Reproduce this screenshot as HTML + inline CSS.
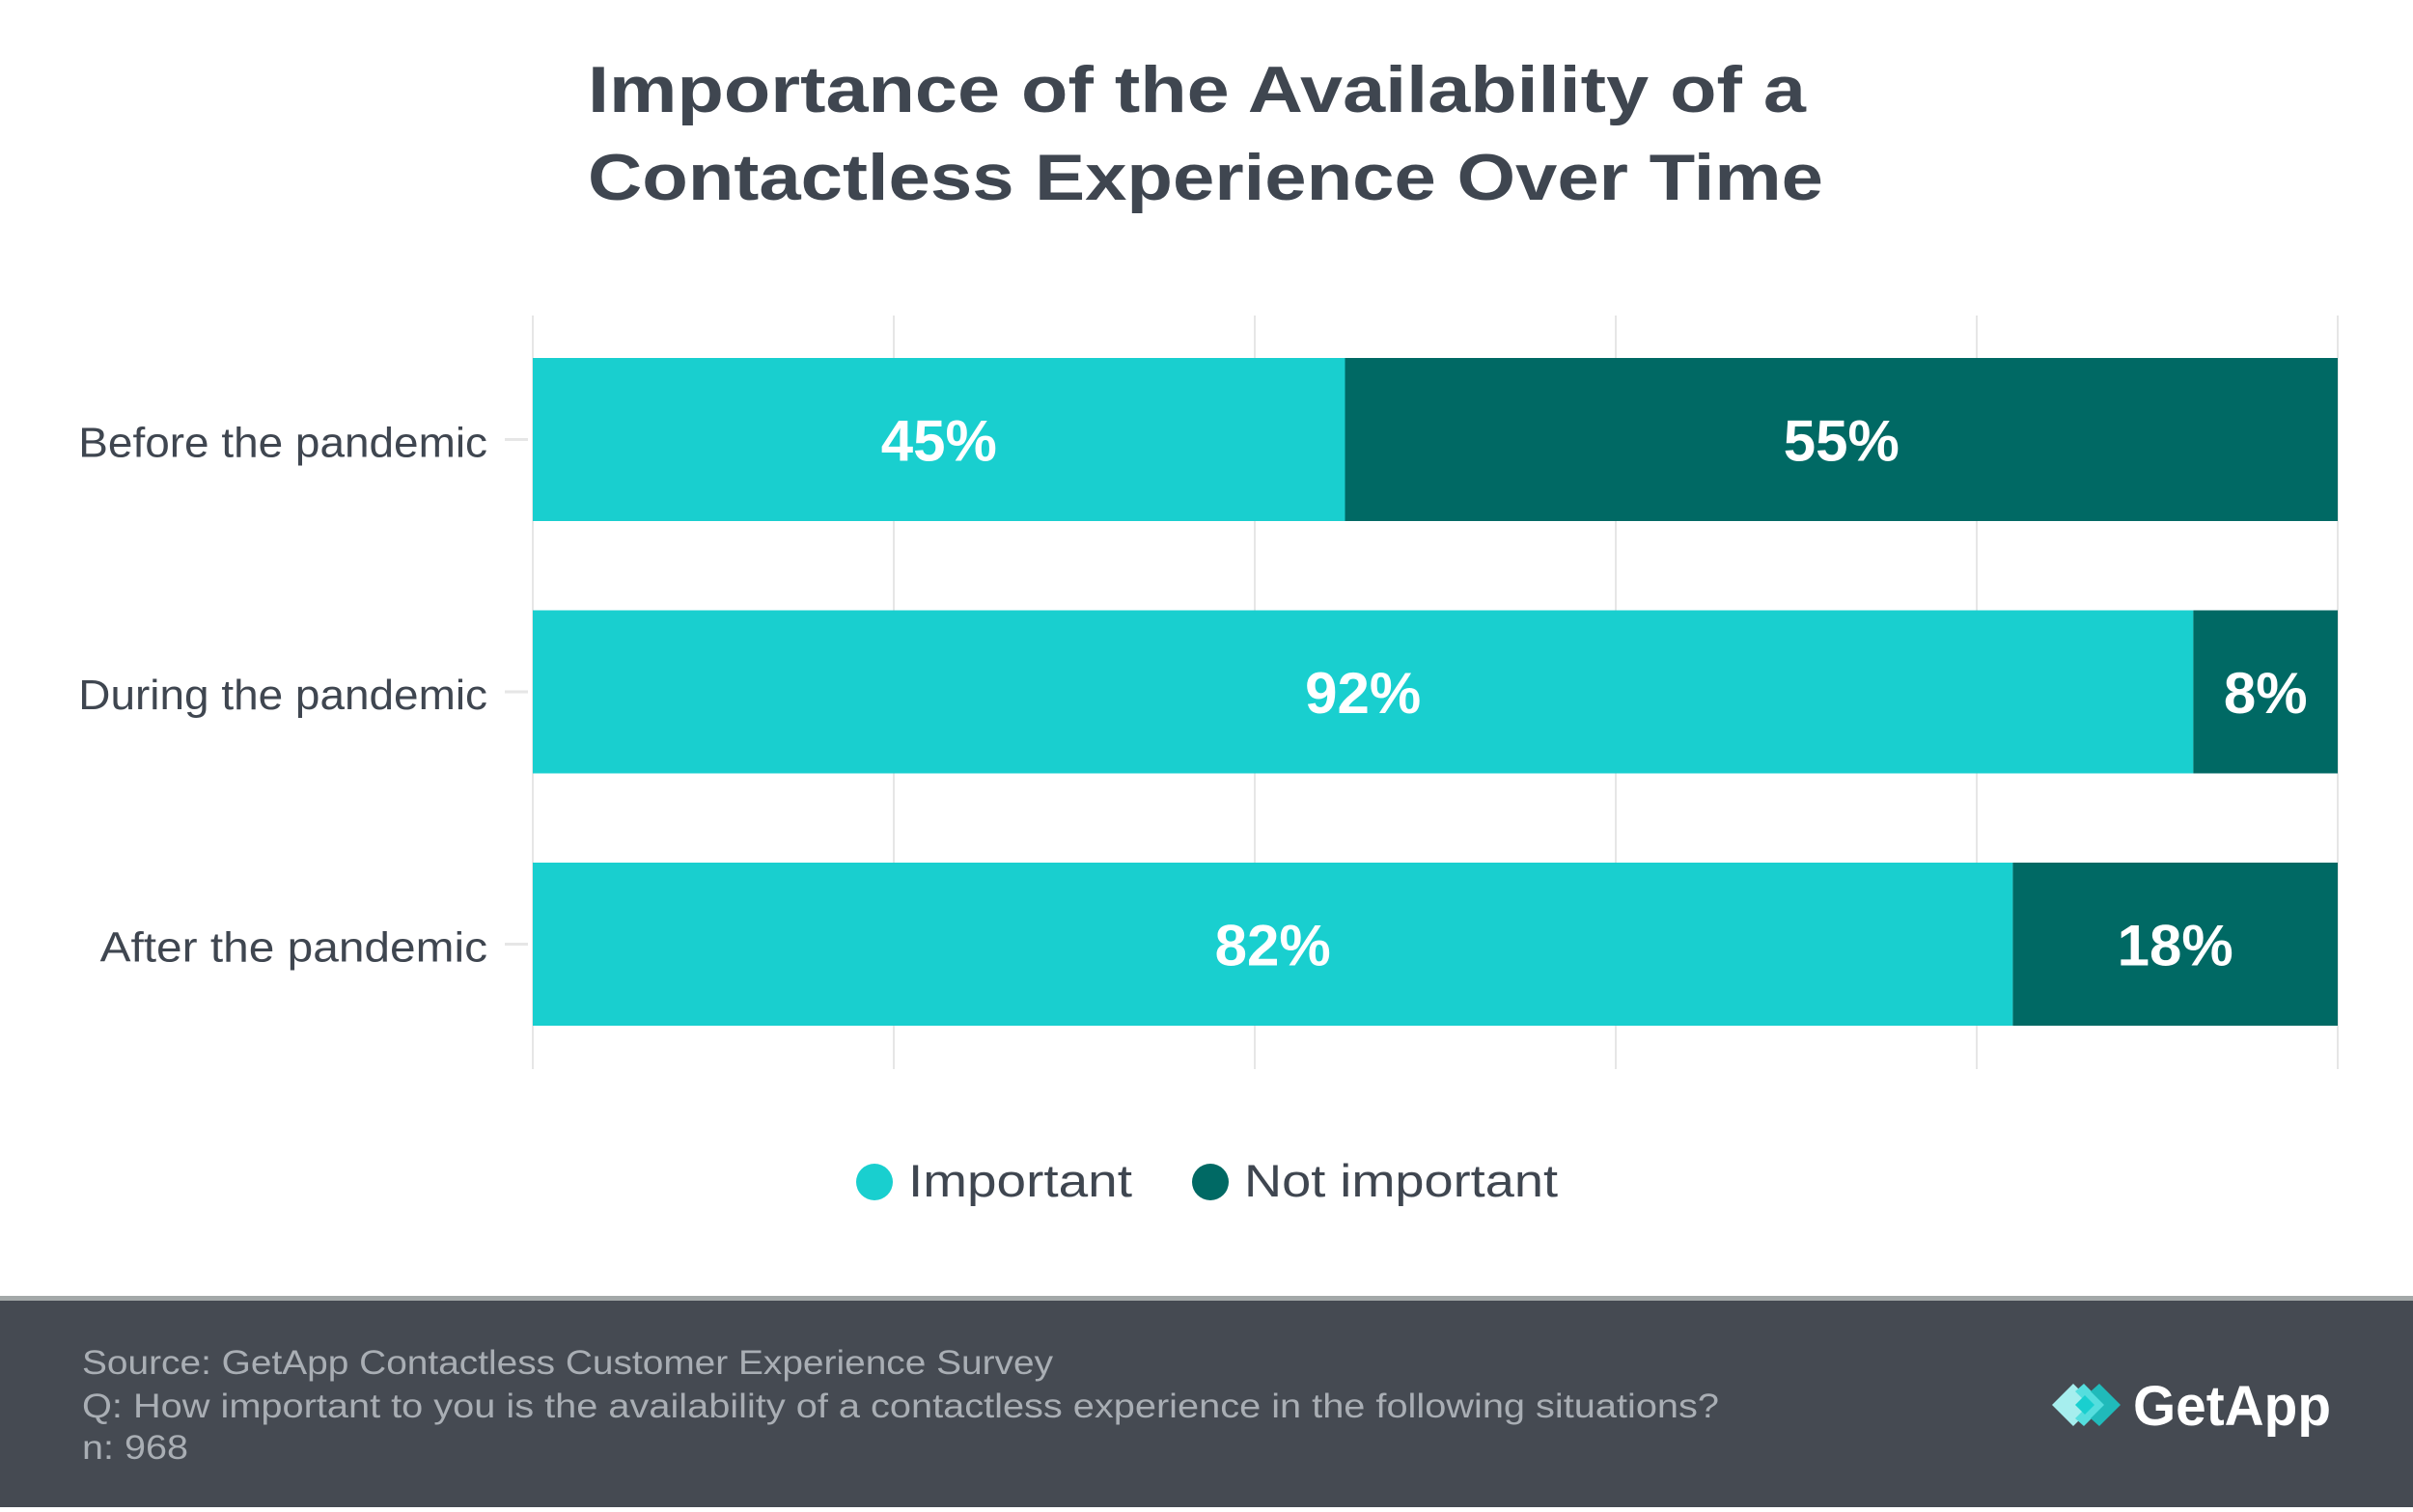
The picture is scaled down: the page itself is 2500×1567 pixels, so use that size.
<!DOCTYPE html>
<html><head><meta charset="utf-8"><style>
html,body{margin:0;padding:0;background:#fff;}
body{width:2500px;height:1562px;overflow:hidden;font-family:"Liberation Sans",sans-serif;}
</style></head><body>
<svg id="chart" width="2500" height="1562" viewBox="0 0 2500 1562" xmlns="http://www.w3.org/2000/svg">
<rect x="0" y="0" width="2500" height="1562" fill="#ffffff"/>
<text x="609" y="116" font-family="Liberation Sans, sans-serif" font-weight="bold" font-size="68" fill="#3f4650" textLength="1262" lengthAdjust="spacingAndGlyphs">Importance of the Availability of a</text>
<text x="609" y="207" font-family="Liberation Sans, sans-serif" font-weight="bold" font-size="68" fill="#3f4650" textLength="1280" lengthAdjust="spacingAndGlyphs">Contactless Experience Over Time</text>
<g id="grid"></g>
<g id="bars"></g>
<g id="cats"></g>
<g>
<circle cx="906" cy="1225" r="19" fill="#19cfcf"/>
<text x="941" y="1240" font-size="47" fill="#3f4650" textLength="232" lengthAdjust="spacingAndGlyphs">Important</text>
<circle cx="1254" cy="1225" r="19" fill="#006964"/>
<text x="1289" y="1240" font-size="47" fill="#3f4650" textLength="325" lengthAdjust="spacingAndGlyphs">Not important</text>
</g>
<rect x="0" y="1343" width="2500" height="5" fill="#a3a8a8"/>
<rect x="0" y="1348" width="2500" height="214" fill="#454a52"/>
<g font-size="35" fill="#a9aeb4">
<text x="85" y="1424" textLength="1006" lengthAdjust="spacingAndGlyphs">Source: GetApp Contactless Customer Experience Survey</text>
<text x="85" y="1469" textLength="1696" lengthAdjust="spacingAndGlyphs">Q: How important to you is the availability of a contactless experience in the following situations?</text>
<text x="85" y="1512" textLength="110" lengthAdjust="spacingAndGlyphs">n: 968</text>
</g>
<g>
<polygon points="2126,1456 2148,1434 2170,1456 2148,1478" fill="#a6eeee"/>
<polygon points="2159,1434 2181,1456 2159,1478 2150,1470 2164,1456 2150,1442" fill="#55dede"/>
<polygon points="2175,1434 2197,1456 2175,1478 2166,1470 2180,1456 2166,1442" fill="#20baba"/>
<polygon points="2150,1456 2160,1446 2170,1456 2160,1466" fill="#19cfcf"/>
<text x="2210" y="1477" font-weight="bold" font-size="58" fill="#ffffff" textLength="205" lengthAdjust="spacingAndGlyphs">GetApp</text>
</g>
</svg>
<script>
const categories = ["Before the pandemic", "During the pandemic", "After the pandemic"];
const importantValues = [45, 92, 82];
const notImportantValues = [55, 8, 18];
const gridTicks = [0, 20, 40, 60, 80, 100];

const NS = "http://www.w3.org/2000/svg";
const X0 = 552, X1 = 2422, TOP = 327, BOTTOM = 1108;
const barTops = [371, 634, 894], BAR_H = 169;
function xScale(v){ return X0 + (X1 - X0) * v / 100; }
function yBand(i){ return barTops[0] + i * ((barTops[2] - barTops[0]) / 2); }
function mk(tag, attrs, parent){ const e = document.createElementNS(NS, tag); for (const k in attrs) e.setAttribute(k, attrs[k]); parent.appendChild(e); return e; }

const grid = document.getElementById('grid');
gridTicks.forEach(t => {
  const l = mk('line', {x1: xScale(t), x2: xScale(t), y1: TOP, y2: BOTTOM, stroke: '#e6e6e6', 'stroke-width': 2}, grid);
  
  
});

const bars = document.getElementById('bars');
const cats = document.getElementById('cats');
categories.forEach((c, i) => {
  const y = yBand(i);
  const a = importantValues[i], b = notImportantValues[i];
  const r1 = mk('rect', {x: xScale(0), y: y, width: xScale(a) - xScale(0), height: BAR_H, fill: '#19cfcf'}, bars);
  
  
  const r2 = mk('rect', {x: xScale(a), y: y, width: xScale(a + b) - xScale(a), height: BAR_H, fill: '#006964'}, bars);
  
  
  const t1 = mk('text', {x: (xScale(0) + xScale(a)) / 2, y: y + BAR_H / 2 + 22, 'text-anchor': 'middle', 'font-weight': 'bold', 'font-size': 60, fill: '#ffffff'}, bars);
  t1.textContent = a + '%';
  
  
  const t2 = mk('text', {x: (xScale(a) + xScale(a + b)) / 2, y: y + BAR_H / 2 + 22, 'text-anchor': 'middle', 'font-weight': 'bold', 'font-size': 60, fill: '#ffffff'}, bars);
  t2.textContent = b + '%';
  
  
  const tick = mk('line', {x1: 523, x2: 547, y1: y + BAR_H / 2, y2: y + BAR_H / 2, stroke: '#e6e6e6', 'stroke-width': 3}, cats);
  
  
  const lab = mk('text', {x: 505, y: y + BAR_H / 2 + 18, 'text-anchor': 'end', 'font-size': 44, fill: '#3f4650'}, cats);
  lab.textContent = c;
  lab.setAttribute('textLength', c.length * 22.3);
  lab.setAttribute('lengthAdjust', 'spacingAndGlyphs');
  
  
});
</script>
</body></html>
